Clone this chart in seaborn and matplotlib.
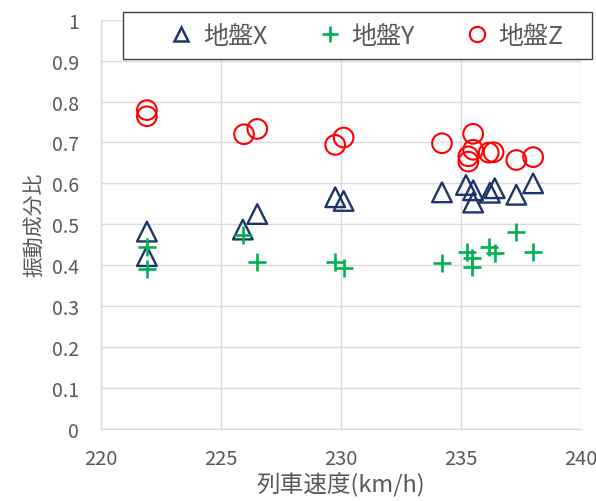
import matplotlib
matplotlib.use("Agg")
import matplotlib.pyplot as plt
from matplotlib.lines import Line2D
from matplotlib.patches import Rectangle
import seaborn as sns
import pandas as pd

# 列車速度 (km/h) と振動成分比
speed_x = [221.9, 221.9, 225.9, 226.5, 229.75, 230.1, 234.2, 235.2, 235.5, 235.5, 236.2, 236.4, 237.3, 238.0]
ratio_x = [0.482, 0.422, 0.487, 0.525, 0.566, 0.557, 0.578, 0.596, 0.583, 0.553, 0.577, 0.588, 0.572, 0.600]

speed_y = [221.9, 221.9, 225.9, 226.5, 229.75, 230.1, 234.2, 235.25, 235.45, 235.45, 236.15, 236.4, 237.3, 238.0]
ratio_y = [0.444, 0.391, 0.474, 0.407, 0.407, 0.392, 0.405, 0.431, 0.417, 0.395, 0.444, 0.429, 0.482, 0.433]

speed_z = [221.9, 221.9, 225.95, 226.5, 229.75, 230.1, 234.2, 235.5, 235.5, 235.3, 235.3, 236.15, 236.35, 237.3, 238.0]
ratio_z = [0.779, 0.764, 0.720, 0.733, 0.694, 0.712, 0.698, 0.721, 0.682, 0.666, 0.653, 0.675, 0.676, 0.657, 0.664]

series_names = ["地盤X", "地盤Y", "地盤Z"]
x_ticks = [220, 225, 230, 235, 240]
y_ticks = [0, 0.1, 0.2, 0.3, 0.4, 0.5, 0.6, 0.7, 0.8, 0.9, 1]
y_tick_labels = ["0", "0.1", "0.2", "0.3", "0.4", "0.5", "0.6", "0.7", "0.8", "0.9", "1"]

sns.set_theme(style="white")
plt.rcParams["font.family"] = ["Noto Sans CJK JP", "DejaVu Sans"]

df_x = pd.DataFrame({"speed": speed_x, "ratio": ratio_x})
df_y = pd.DataFrame({"speed": speed_y, "ratio": ratio_y})
df_z = pd.DataFrame({"speed": speed_z, "ratio": ratio_z})

navy = "#1F3469"
green = "#00B050"
red = "#FF0000"
text_gray = "#595959"
grid_gray = "#D9D9D9"

fig = plt.figure(figsize=(5.96, 5.02), dpi=100)
ax = fig.add_axes([0.170, 0.1438, 0.805, 0.815])

sns.scatterplot(data=df_x, x="speed", y="ratio", ax=ax, marker="^", s=200,
                facecolors="none", edgecolors=navy, linewidths=1.7, zorder=3)
sns.scatterplot(data=df_y, x="speed", y="ratio", ax=ax, marker="+", s=150,
                color=green, linewidths=1.9, zorder=4)
sns.scatterplot(data=df_z, x="speed", y="ratio", ax=ax, marker="o", s=200,
                facecolors="none", edgecolors=red, linewidths=1.5, zorder=2)

ax.set_xlim(220, 240)
ax.set_ylim(0, 1)
ax.set_xticks(x_ticks)
ax.set_yticks(y_ticks)
ax.set_yticklabels(y_tick_labels)
ax.grid(True, color=grid_gray, linewidth=1.0)
ax.set_axisbelow(True)
for side in ["top", "right"]:
    ax.spines[side].set_visible(False)
for side in ["left", "bottom"]:
    ax.spines[side].set_color(grid_gray)
    ax.spines[side].set_linewidth(1.0)
ax.tick_params(axis="y", length=0, labelsize=14, colors=text_gray, pad=16)
ax.tick_params(axis="x", length=0, labelsize=14.5, colors=text_gray, pad=14)

ax.set_xlabel("列車速度(km/h)", fontsize=17, color=text_gray, labelpad=2)
ax.set_ylabel("振動成分比", fontsize=15, color=text_gray, labelpad=5)

# 凡例の枠
fig.patches.append(Rectangle((123 / 596, 1 - 60 / 502), 469 / 596, 47 / 502,
                             transform=fig.transFigure, facecolor="white",
                             edgecolor="#404040", linewidth=1.0, zorder=5))

handles = [
    Line2D([], [], linestyle="none", marker="^", markersize=10, markerfacecolor="none",
           markeredgecolor=navy, markeredgewidth=1.8),
    Line2D([], [], linestyle="none", marker="+", markersize=11,
           markeredgecolor=green, markeredgewidth=1.9),
    Line2D([], [], linestyle="none", marker="o", markersize=11, markerfacecolor="none",
           markeredgecolor=red, markeredgewidth=1.5),
]
leg = fig.legend(handles, series_names, loc="center", ncol=3,
                 bbox_to_anchor=(366 / 596, 1 - 36.5 / 502), frameon=False,
                 fontsize=18, handletextpad=0.35, columnspacing=2.0,
                 handlelength=1.0, labelcolor=text_gray)
leg.set_zorder(6)

fig.savefig("out.png", dpi=100)
